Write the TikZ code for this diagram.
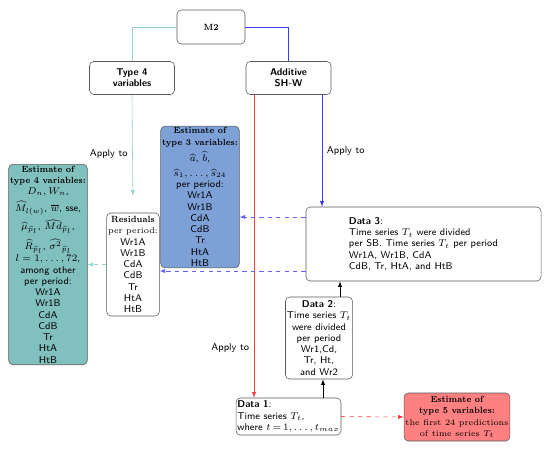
\documentclass[tikz,border=0pt]{standalone}
\usepackage{amsmath}
\usepackage{fontspec}
\newfontfamily\ttlfont[FakeStretch=0.84]{Latin Modern Roman}
\definecolor{tealfill}{RGB}{128,192,190}
\definecolor{bluefill}{RGB}{125,160,215}
\definecolor{redfill}{RGB}{255,128,128}
\definecolor{tealline}{RGB}{150,210,208}
\definecolor{blueline}{RGB}{60,60,255}
\definecolor{redline}{RGB}{255,60,60}
\definecolor{boxline}{RGB}{90,90,90}
\newcommand{\rmtxt}[1]{{\fontsize{6}{8}\selectfont\rmfamily #1}}
\newcommand{\rmttl}[1]{{\fontsize{6.4}{8}\selectfont\ttlfont\bfseries #1}}
\begin{document}
\begin{tikzpicture}[x=0.025cm, y=-0.025cm,
		box/.style={draw=boxline, rounded corners=3pt, fill=white, align=center, inner sep=1pt, font=\scriptsize\sffamily},
		arr/.style={-latex},
		lbl/.style={font=\scriptsize\sffamily}]
		\useasboundingbox (0,0) rectangle (550,450);
		
		\node[box, minimum width=1.7cm, minimum height=0.85cm] (m2) at (211,27) {\rmttl{M2}};
		\node[box, minimum width=2.125cm, minimum height=0.825cm] (type4) at (132,78) {\textbf{Type 4}\\\textbf{variables}};
		\node[box, minimum width=2.125cm, minimum height=0.825cm] (add) at (288.5,78) {\textbf{Additive}\\\textbf{SH-W}};
		
		\node[box, fill=bluefill, minimum width=1.9cm, minimum height=3.475cm] (est3) at (200,197) {\rmttl{Estimate of}\\\rmttl{type 3 variables:}\\[2.5pt]$\widehat{a}$, $\widehat{b}$,\\[2.5pt]$\widehat{s}_1,\ldots,\widehat{s}_{24}$\\per period:\\Wr1A\\Wr1B\\CdA\\CdB\\Tr\\HtA\\HtB};
		\node[box, minimum width=1.3cm, minimum height=2.575cm] (resid) at (133,264.5) {\rmttl{Residuals}\\\rmtxt{per period:}\\Wr1A\\Wr1B\\CdA\\CdB\\Tr\\HtA\\HtB};
		\node[box, fill=tealfill, minimum width=1.95cm, minimum height=4.75cm] (est4) at (48,264.5) {\rmttl{Estimate of}\\\rmttl{type 4 variables:}\\$D_n,W_n$,\\[2.5pt]$\widehat{M}_{l(w)}$, $\overline{w}$, sse,\\[2.5pt]$\widehat{\mu}_{\widehat{p}_l}$, $\widehat{Md}_{\widehat{p}_l}$,\\[2.5pt]$\widehat{R}_{\widehat{p}_l}$, $\widehat{\sigma^2}_{\widehat{p}_l}$\\[1pt]$l=1,\ldots,72$,\\among other\\per period:\\Wr1A\\Wr1B\\CdA\\CdB\\Tr\\HtA\\HtB};
		
		\node[box, align=left, minimum width=5.875cm, minimum height=1.85cm] (data3) at (423.5,244) {\textbf{Data 3}:\\Time series $T_t$ were divided\\per SB. Time series $T_t$ per period\\Wr1A, Wr1B, CdA\\CdB, Tr, HtA, and HtB};
		\node[box, minimum width=1.55cm, minimum height=2.05cm] (data2) at (319,338) {\textbf{Data 2}:\\Time series $T_t$\\were divided\\per period\\Wr1,Cd,\\Tr, Ht,\\and Wr2};
		\node[box, align=left, minimum width=2.325cm, minimum height=0.925cm] (data1) at (288.5,416.5) {\textbf{Data 1}:\\Time series $T_t$,\\where {\thickmuskip=3mu $t=1,\ldots,t_{max}$}};
		\node[box, fill=redfill, minimum width=2.5cm, minimum height=1.2cm] (est5) at (457,417) {\rmttl{Estimate of}\\\rmttl{type 5 variables:}\\\rmtxt{the first 24 predictions}\\\rmtxt{of time series $T_t$}};
		
		% tree from M2
		\draw[tealline] (m2.west) -| (type4.north);
		\draw[blueline] (m2.east) -| (add.north);
		
		% apply to
		\draw[arr, tealline, shorten >=0.425cm] (type4.south) -- (resid.north) node[midway, left, black, lbl] {Apply to};
		\coordinate (bluetop) at (322,95);
		\draw[arr, blueline] (bluetop) -- (bluetop |- data3.north) node[midway, right, black, lbl] {Apply to};
		\coordinate (redtop) at (254,95);
		\draw[arr, redline] (redtop) -- (redtop |- data1.north) node[pos=0.835, left, black, lbl] {Apply to};
		
		% data flow
		\draw[arr] (323,0 |- data1.north) -- (323,0 |- data2.south);
		\draw[arr] (340,0 |- data2.north) -- (340,0 |- data3.south);
		\draw[arr, blueline!80, dashed] (data3.west |- 0,217) -- (est3.east |- 0,217);
		\draw[arr, blueline!80, dashed] (data3.west |- 0,271) -- (resid.east |- 0,271);
		\draw[arr, tealline, dashed] (resid.west) -- (est4.east);
		\draw[arr, redline, dashed] (data1.east) -- (est5.west);
	\end{tikzpicture}
\end{document}
